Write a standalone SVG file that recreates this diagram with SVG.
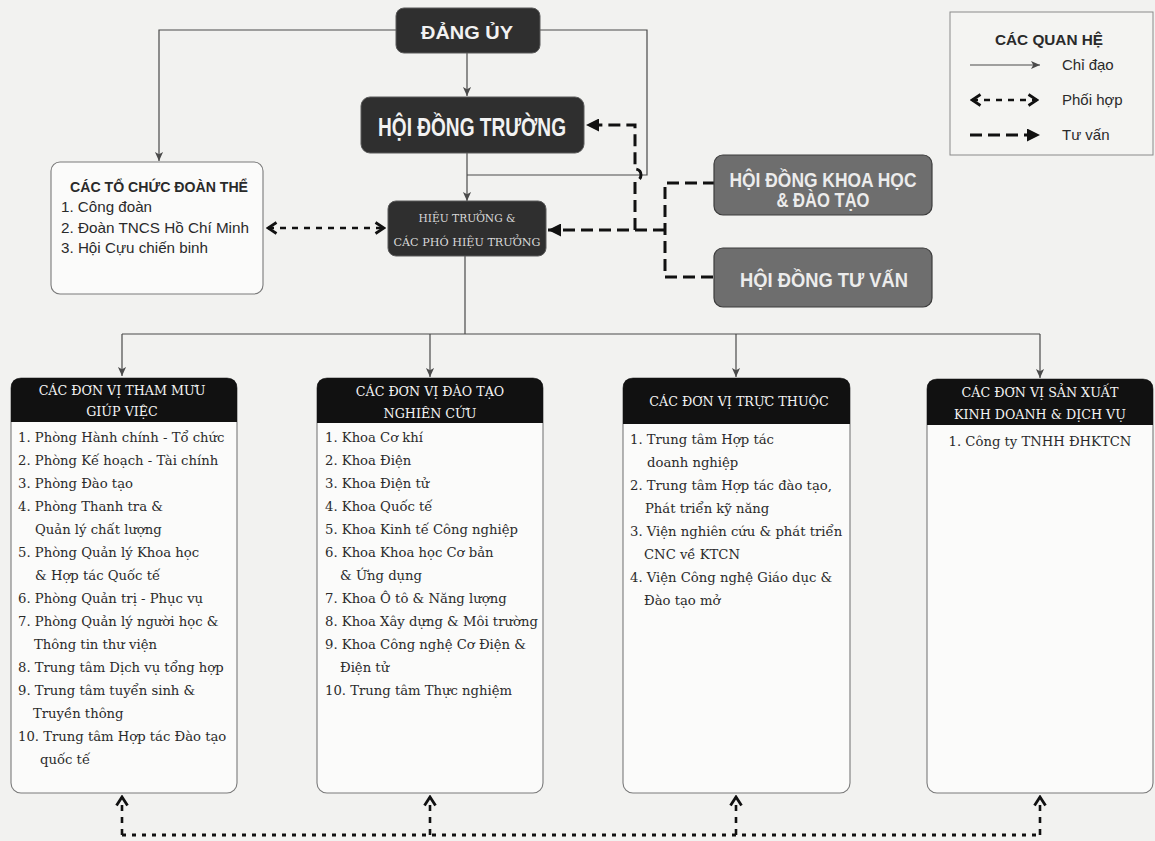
<svg xmlns="http://www.w3.org/2000/svg" width="1155" height="841" viewBox="0 0 1155 841">
<style>
.bg{fill:#f2f2f0}
.dark{fill:#2f2f2f;stroke:#5a5a5a;stroke-width:1}
.grey{fill:#6e6e6e;stroke:#3c3c3c;stroke-width:1.2}
.panel{fill:#fbfbfa;stroke:#7a7a7a;stroke-width:1.1}
.hdr{fill:#111}
.ttl{font-family:"Liberation Sans",Arial,sans-serif;font-weight:bold;fill:#f2f2f2;text-anchor:middle}
.gt{font-family:"Liberation Sans",Arial,sans-serif;font-weight:bold;fill:#ececec;text-anchor:middle}
.ht{font-family:"DejaVu Serif","Liberation Serif",serif;font-size:10.5px;fill:#d8d8d8;text-anchor:middle}
.sans{font-family:"Liberation Sans",Arial,sans-serif;font-size:15px;fill:#2a2a2a}
.sansb{font-family:"Liberation Sans",Arial,sans-serif;font-size:14px;font-weight:bold;fill:#2a2a2a}
.hh{font-family:"DejaVu Serif","Liberation Serif",serif;font-size:12.7px;fill:#f4f4f4;text-anchor:middle}
.it{font-family:"DejaVu Serif","Liberation Serif",serif;font-size:13.2px;fill:#2a2a2a}
.solid{fill:none;stroke:#4a4a4a;stroke-width:1.2}
.advise{fill:none;stroke:#111;stroke-width:3;stroke-dasharray:12 6}
.coop{fill:none;stroke:#111;stroke-width:2.6;stroke-dasharray:6 6}
.dot{fill:none;stroke:#111;stroke-width:3;stroke-dasharray:4 6}
</style>
<defs>
<marker id="arr" viewBox="0 0 10 10" refX="10" refY="5" markerWidth="9" markerHeight="11" markerUnits="userSpaceOnUse" orient="auto">
<path d="M0,0.5 L10,5 L0,9.5 L2.5,5 z" fill="#4a4a4a"/>
</marker>
<marker id="big" viewBox="0 0 12 12" refX="12" refY="6" markerWidth="14" markerHeight="13" markerUnits="userSpaceOnUse" orient="auto">
<path d="M0,0 L12,6 L0,12 z" fill="#111"/>
</marker>
<marker id="chev" viewBox="0 0 12 14" refX="10" refY="7" markerWidth="12" markerHeight="14" markerUnits="userSpaceOnUse" orient="auto-start-reverse">
<path d="M1.5,1.5 L10,7 L1.5,12.5" fill="none" stroke="#111" stroke-width="2.8" stroke-linejoin="miter"/>
</marker>
</defs>
<rect class="bg" x="0" y="0" width="1155" height="841"/>

<g id="connectors">
<path class="solid" d="M467,53 V96" marker-end="url(#arr)"/>
<path class="solid" d="M467,153 V201" marker-end="url(#arr)"/>
<path class="solid" d="M396,30 H159 V161" marker-end="url(#arr)"/>
<path class="solid" d="M540,30 H647 V175 H467"/>
<path class="solid" d="M465,256 V334 M122,334 H1040"/>
<path class="solid" d="M122,334 V376" marker-end="url(#arr)"/>
<path class="solid" d="M430,334 V377" marker-end="url(#arr)"/>
<path class="solid" d="M736,334 V377" marker-end="url(#arr)"/>
<path class="solid" d="M1040,334 V378" marker-end="url(#arr)"/>
<path class="advise" d="M715,183 H665 V277 H715"/>
<path class="advise" d="M665,230 H548" marker-end="url(#big)"/>
<path class="advise" d="M635,230 V181 A6,6 0 0 0 635,169 V125 H586" marker-end="url(#big)"/>
<path class="coop" d="M268,228 H384" marker-start="url(#chev)" marker-end="url(#chev)"/>
<path class="dot" d="M122,835 H1040"/>
<path class="coop" d="M122,835 V797" marker-end="url(#chev)"/>
<path class="coop" d="M430,835 V797" marker-end="url(#chev)"/>
<path class="coop" d="M736,835 V797" marker-end="url(#chev)"/>
<path class="coop" d="M1040,835 V797" marker-end="url(#chev)"/>
</g>

<g id="dang-uy">
<rect class="dark" x="396" y="8" width="144" height="45" rx="8"/>
<text class="ttl" x="467" y="39" font-size="19" textLength="92" lengthAdjust="spacingAndGlyphs">ĐẢNG ỦY</text>
</g>

<g id="hoi-dong-truong">
<rect class="dark" x="361" y="97" width="223" height="56" rx="9"/>
<text class="ttl" x="472" y="136" font-size="25" textLength="188" lengthAdjust="spacingAndGlyphs">HỘI ĐỒNG TRƯỜNG</text>
</g>

<g id="hieu-truong">
<rect class="dark" x="388" y="201" width="158" height="55" rx="8"/>
<text class="ht" x="467" y="222" textLength="97" lengthAdjust="spacingAndGlyphs">HIỆU TRƯỞNG &amp;</text>
<text class="ht" x="467" y="246" textLength="147" lengthAdjust="spacingAndGlyphs">CÁC PHÓ HIỆU TRƯỞNG</text>
</g>

<g id="doan-the">
<rect class="panel" x="51" y="162" width="212" height="132" rx="9"/>
<text class="sansb" x="70" y="192" textLength="178" lengthAdjust="spacingAndGlyphs">CÁC TỔ CHỨC ĐOÀN THỂ</text>
<text class="sans" x="61" y="212" textLength="91" lengthAdjust="spacingAndGlyphs">1. Công đoàn</text>
<text class="sans" x="61" y="233" textLength="188" lengthAdjust="spacingAndGlyphs">2. Đoàn TNCS Hồ Chí Minh</text>
<text class="sans" x="61" y="253" textLength="147" lengthAdjust="spacingAndGlyphs">3. Hội Cựu chiến binh</text>
</g>

<g id="hd-khoa-hoc">
<rect class="grey" x="714" y="155" width="218" height="60" rx="9"/>
<text class="gt" x="823" y="187" font-size="20" textLength="187" lengthAdjust="spacingAndGlyphs">HỘI ĐỒNG KHOA HỌC</text>
<text class="gt" x="823" y="207" font-size="20" textLength="93" lengthAdjust="spacingAndGlyphs">&amp; ĐÀO TẠO</text>
</g>

<g id="hd-tu-van">
<rect class="grey" x="714" y="248" width="218" height="59" rx="9"/>
<text class="gt" x="824" y="287" font-size="20" textLength="168" lengthAdjust="spacingAndGlyphs">HỘI ĐỒNG TƯ VẤN</text>
</g>

<g id="legend">
<rect x="950" y="12" width="203" height="143" fill="#f4f4f2" stroke="#8a8a8a" stroke-width="1"/>
<text class="sansb" x="995" y="45" textLength="108" lengthAdjust="spacingAndGlyphs">CÁC QUAN HỆ</text>
<path class="solid" d="M970,65 H1040" marker-end="url(#arr)"/>
<text class="sans" x="1062" y="70">Chỉ đạo</text>
<path class="coop" d="M972,100 H1037" stroke-dasharray="5 6" marker-start="url(#chev)" marker-end="url(#chev)"/>
<text class="sans" x="1062" y="105">Phối hợp</text>
<path class="advise" d="M970,135 H1040" stroke-dasharray="22 3" marker-end="url(#big)"/>
<text class="sans" x="1062" y="140">Tư vấn</text>
</g>

<g id="tham-muu">
<rect class="panel" x="11" y="378" width="226" height="415" rx="10"/>
<path class="hdr" d="M11,422 V388 Q11,378 21,378 H227 Q237,378 237,388 V422 Z"/>
<text class="hh" x="122" y="395">CÁC ĐƠN VỊ THAM MƯU</text>
<text class="hh" x="122" y="416">GIÚP VIỆC</text>
<text class="it" x="18" y="442">1. Phòng Hành chính - Tổ chức</text>
<text class="it" x="18" y="465">2. Phòng Kế hoạch - Tài chính</text>
<text class="it" x="18" y="488">3. Phòng Đào tạo</text>
<text class="it" x="18" y="511">4. Phòng Thanh tra &amp;</text>
<text class="it" x="35" y="534">Quản lý chất lượng</text>
<text class="it" x="18" y="557">5. Phòng Quản lý Khoa học</text>
<text class="it" x="35" y="580">&amp; Hợp tác Quốc tế</text>
<text class="it" x="18" y="603">6. Phòng Quản trị - Phục vụ</text>
<text class="it" x="18" y="626">7. Phòng Quản lý người học &amp;</text>
<text class="it" x="34" y="649">Thông tin thư viện</text>
<text class="it" x="18" y="672">8. Trung tâm Dịch vụ tổng hợp</text>
<text class="it" x="18" y="695">9. Trung tâm tuyển sinh &amp;</text>
<text class="it" x="33" y="718">Truyền thông</text>
<text class="it" x="18" y="741">10. Trung tâm Hợp tác Đào tạo</text>
<text class="it" x="40" y="764">quốc tế</text>
</g>

<g id="dao-tao">
<rect class="panel" x="317" y="378" width="226" height="415" rx="10"/>
<path class="hdr" d="M317,423 V388 Q317,378 327,378 H533 Q543,378 543,388 V423 Z"/>
<text class="hh" x="430" y="396">CÁC ĐƠN VỊ ĐÀO TẠO</text>
<text class="hh" x="430" y="418">NGHIÊN CỨU</text>
<text class="it" x="325" y="442">1. Khoa Cơ khí</text>
<text class="it" x="325" y="465">2. Khoa Điện</text>
<text class="it" x="325" y="488">3. Khoa Điện tử</text>
<text class="it" x="325" y="511">4. Khoa Quốc tế</text>
<text class="it" x="325" y="534">5. Khoa Kinh tế Công nghiệp</text>
<text class="it" x="325" y="557">6. Khoa Khoa học Cơ bản</text>
<text class="it" x="340" y="580">&amp; Ứng dụng</text>
<text class="it" x="325" y="603">7. Khoa Ô tô &amp; Năng lượng</text>
<text class="it" x="325" y="626">8. Khoa Xây dựng &amp; Môi trường</text>
<text class="it" x="325" y="649">9. Khoa Công nghệ Cơ Điện &amp;</text>
<text class="it" x="340" y="672">Điện tử</text>
<text class="it" x="325" y="695">10. Trung tâm Thực nghiệm</text>
</g>

<g id="truc-thuoc">
<rect class="panel" x="623" y="378" width="227" height="415" rx="10"/>
<path class="hdr" d="M623,424 V388 Q623,378 633,378 H840 Q850,378 850,388 V424 Z"/>
<text class="hh" x="739" y="406">CÁC ĐƠN VỊ TRỰC THUỘC</text>
<text class="it" x="630" y="444">1. Trung tâm Hợp tác</text>
<text class="it" x="647" y="467">doanh nghiệp</text>
<text class="it" x="630" y="490">2. Trung tâm Hợp tác đào tạo,</text>
<text class="it" x="645" y="513">Phát triển kỹ năng</text>
<text class="it" x="630" y="536">3. Viện nghiên cứu &amp; phát triển</text>
<text class="it" x="644" y="559">CNC về KTCN</text>
<text class="it" x="630" y="582">4. Viện Công nghệ Giáo dục &amp;</text>
<text class="it" x="644" y="605">Đào tạo mở</text>
</g>

<g id="san-xuat">
<rect class="panel" x="927" y="379" width="226" height="414" rx="10"/>
<path class="hdr" d="M927,425 V389 Q927,379 937,379 H1143 Q1153,379 1153,389 V425 Z"/>
<text class="hh" x="1040" y="397">CÁC ĐƠN VỊ SẢN XUẤT</text>
<text class="hh" x="1040" y="419">KINH DOANH &amp; DỊCH VỤ</text>
<text class="it" x="1040" y="446" text-anchor="middle">1. Công ty TNHH ĐHKTCN</text>
</g>
</svg>
